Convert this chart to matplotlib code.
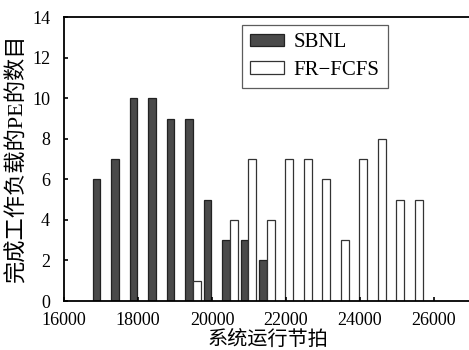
import matplotlib
matplotlib.use("Agg")
import matplotlib.pyplot as plt
import numpy as np

bins = [17000, 17500, 18000, 18500, 19000, 19500, 20000, 20500, 21000, 21500,
        22000, 22500, 23000, 23500, 24000, 24500, 25000, 25500]
sbnl = [6, 7, 10, 10, 9, 9, 5, 3, 3, 2, 0, 0, 0, 0, 0, 0, 0, 0]
frfcfs = [0, 0, 0, 0, 0, 1, 0, 4, 7, 4, 7, 7, 6, 3, 7, 8, 5, 5]
xticks = [16000, 18000, 20000, 22000, 24000, 26000]
yticks = [0, 2, 4, 6, 8, 10, 12, 14]
series_names = ["SBNL", "FR\u2212FCFS"]
xlabel = "系统运行节拍"
ylabel = "完成工作负载的PE的数目"

serif = ["Liberation Serif", "Noto Sans CJK SC"]
plt.rcParams["font.family"] = serif

fig = plt.figure(figsize=(4.69, 3.5), dpi=100)
ax = fig.add_axes([64/469, 49/350, 407/469, 283.7/350])

x = np.array(bins, dtype=float)
w = 215
sb = [v if v > 0 else np.nan for v in sbnl]
fr = [v if v > 0 else np.nan for v in frfcfs]
ax.bar(x - 122, sb, width=w, color="#4a4a4a", edgecolor="#222222", linewidth=0.9,
       label=series_names[0])
ax.bar(x + 90, fr, width=w, color="white", edgecolor="#333333", linewidth=0.9,
       label=series_names[1])

ax.set_xlim(16000, 27000)
ax.set_ylim(0, 14)
ax.set_xticks(xticks)
ax.set_yticks(yticks)
ax.tick_params(direction="in", length=3, width=1.2, labelsize=13)
ax.tick_params(axis="y", pad=10)
ax.tick_params(axis="x", pad=8)
for s in ax.spines.values():
    s.set_linewidth(1.3)

ax.set_xlabel(xlabel, fontsize=14.5, family=serif, labelpad=1)
ax.set_ylabel(ylabel, fontsize=16, family=serif, labelpad=3)

leg = ax.legend(loc="upper left", bbox_to_anchor=(0.4366, 0.973), borderaxespad=0,
                fontsize=15, frameon=True, fancybox=False, handlelength=1.65,
                handleheight=0.55, handletextpad=0.45, borderpad=0.4,
                labelspacing=0.4, edgecolor="#333333")
leg.get_frame().set_linewidth(0.9)

fig.savefig("out.png", dpi=100)
